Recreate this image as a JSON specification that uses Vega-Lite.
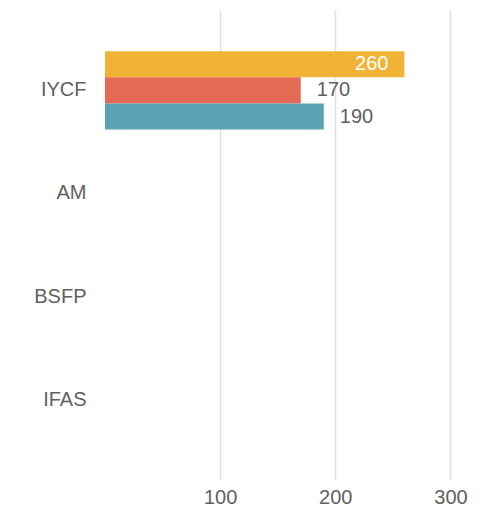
{
  "$schema": "https://vega.github.io/schema/vega-lite/v6.json",
  "width": 380,
  "height": 470,
  "autosize": "none",
  "padding": {"left": 105, "top": 10, "right": 1, "bottom": 31},
  "config": {
    "font": "Liberation Sans",
    "view": {"stroke": null}
  },
  "data": {
    "values": [
      {"category": "IYCF", "series": "s1", "value": 260},
      {"category": "IYCF", "series": "s2", "value": 170},
      {"category": "IYCF", "series": "s3", "value": 190}
    ]
  },
  "encoding": {
    "y": {
      "field": "category",
      "type": "nominal",
      "scale": {"domain": ["IYCF", "AM", "BSFP", "IFAS"], "paddingInner": 0.24, "paddingOuter": 0.4},
      "axis": {
        "title": null, "domain": false, "ticks": false,
        "labelFontSize": 20, "labelColor": "#616161", "labelPadding": 19
      }
    },
    "yOffset": {
      "field": "series",
      "type": "nominal",
      "scale": {"domain": ["s1", "s2", "s3"], "paddingInner": 0, "paddingOuter": 0}
    },
    "x": {
      "field": "value",
      "type": "quantitative",
      "scale": {"domain": [0, 330], "nice": false, "zero": true},
      "axis": {
        "title": null, "domain": false, "ticks": false,
        "values": [100, 200, 300],
        "labelFontSize": 20, "labelColor": "#616161", "labelPadding": 7,
        "gridColor": "#e0e0e0", "gridWidth": 1.5
      }
    }
  },
  "layer": [
    {
      "mark": {"type": "bar"},
      "encoding": {
        "color": {
          "field": "series",
          "type": "nominal",
          "scale": {"domain": ["s1", "s2", "s3"], "range": ["#F0B336", "#E46A55", "#5BA3B2"]},
          "legend": null
        }
      }
    },
    {
      "transform": [{"filter": "datum.value > 200"}],
      "mark": {"type": "text", "align": "right", "baseline": "middle", "dx": -16, "fontSize": 20, "color": "white"},
      "encoding": {"text": {"field": "value", "type": "quantitative"}}
    },
    {
      "transform": [{"filter": "datum.value <= 200"}],
      "mark": {"type": "text", "align": "left", "baseline": "middle", "dx": 16, "fontSize": 20, "color": "#616161"},
      "encoding": {"text": {"field": "value", "type": "quantitative"}}
    }
  ]
}
